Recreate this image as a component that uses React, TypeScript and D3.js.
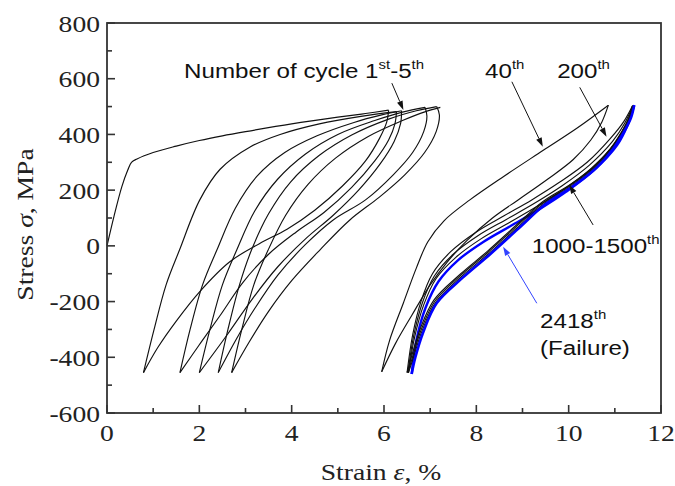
import React from 'react';
import * as d3 from 'd3';

type Pt = [number, number];

// axis ticks
const xTicks = [0, 2, 4, 6, 8, 10, 12];
const xMinor = [1, 3, 5, 7, 9, 11];
const yTicks = [-600, -400, -200, 0, 200, 400, 600, 800];
const yMinor = [-500, -300, -100, 100, 300, 500, 700];

// ----- cycles 1-5 (strain %, stress MPa)
const initialLoading: Pt[] = [[0, 0], [0.15, 105], [0.32, 212], [0.45, 272], [0.53, 300], [0.65, 312], [1, 335], [1.5, 358], [2, 378], [2.5, 395], [3, 410], [4, 438], [5, 462], [5.6, 475], [6.1, 487]];
const unload1: Pt[] = [[6.1, 487], [6.06, 445], [5.9, 385], [5.6, 305], [5.1, 215], [4.5, 128], [3.9, 60], [3.3, 8], [2.66, -57], [2.01, -164], [1.5, -270], [1.1, -365], [0.79, -455]];
const reload1: Pt[] = [[0.79, -455], [1.02, -300], [1.28, -140], [1.57, -15], [2.01, 165], [2.45, 275], [3.1, 355], [3.75, 400], [4.6, 438], [5.5, 465], [6.27, 482]];
const unload2: Pt[] = [[6.27, 482], [6.24, 440], [6.1, 380], [5.8, 305], [5.3, 210], [4.7, 120], [4.1, 50], [3.5, -30], [2.95, -130], [2.45, -250], [2.0, -355], [1.58, -455]];
const reload2: Pt[] = [[1.58, -455], [1.8, -300], [2.07, -140], [2.38, -15], [2.78, 135], [3.25, 250], [3.85, 335], [4.55, 395], [5.35, 443], [5.95, 470], [6.38, 485]];
const unload3: Pt[] = [[6.38, 485], [6.36, 440], [6.22, 375], [5.92, 295], [5.45, 200], [4.9, 110], [4.3, 25], [3.7, -75], [3.15, -190], [2.6, -320], [2.0, -455]];
const reload3: Pt[] = [[2.0, -455], [2.23, -300], [2.5, -140], [2.81, -15], [3.2, 125], [3.7, 240], [4.3, 330], [5.0, 400], [5.8, 450], [6.4, 480], [6.89, 497]];
const unload4: Pt[] = [[6.89, 497], [6.93, 465], [6.86, 410], [6.62, 335], [6.2, 255], [5.6, 165], [4.9, 93], [4.3, 5], [3.7, -105], [3.2, -225], [2.8, -335], [2.41, -455]];
const reload4: Pt[] = [[2.41, -455], [2.62, -300], [2.87, -140], [3.13, -15], [3.5, 115], [3.98, 230], [4.6, 325], [5.3, 398], [6.1, 455], [6.7, 485], [7.14, 500]];
const unload5: Pt[] = [[7.14, 500], [7.2, 470], [7.13, 410], [6.88, 335], [6.45, 255], [5.9, 175], [5.26, 93], [4.61, -15], [4.0, -125], [3.5, -235], [3.08, -345], [2.7, -455]];
const reload5: Pt[] = [[2.7, -455], [2.92, -300], [3.18, -140], [3.49, -15], [3.87, 110], [4.35, 220], [4.95, 315], [5.65, 392], [6.4, 450], [6.9, 482], [7.22, 497]];

// ----- cycle 40
const c40Up: Pt[] = [[5.95, -452], [6.12, -340], [6.42, -205], [6.7, -80], [6.95, 15], [7.3, 90], [7.86, 165], [8.6, 250], [9.45, 343], [10.2, 425], [10.86, 505]];
const c40Down: Pt[] = [[10.86, 505], [10.72, 445], [10.48, 380], [10.1, 310], [9.55, 240], [8.95, 170], [8.35, 100], [7.8, 20], [7.36, -60], [7.0, -140], [6.6, -250], [6.25, -350], [5.95, -452]];

// ----- cycles 200, 1000-1500
const b200Up: Pt[] = [[6.5, -455], [6.62, -320], [6.8, -200], [7.05, -100], [7.45, -20], [8.0, 50], [8.6, 108], [9.2, 165], [9.8, 228], [10.4, 300], [10.9, 385], [11.2, 448], [11.38, 502]];
const b200Down: Pt[] = [[11.38, 502], [11.3, 458], [11.15, 410], [10.9, 348], [10.55, 285], [10.05, 222], [9.45, 160], [8.85, 72], [8.25, -18], [7.65, -102], [7.08, -195], [6.78, -300], [6.6, -395], [6.5, -455]];
const b1000Up: Pt[] = [[6.52, -455], [6.64, -325], [6.83, -205], [7.09, -108], [7.5, -30], [8.05, 38], [8.65, 95], [9.25, 152], [9.85, 215], [10.45, 290], [10.95, 375], [11.22, 442], [11.39, 503]];
const b1000Down: Pt[] = [[11.39, 503], [11.31, 458], [11.16, 410], [10.91, 346], [10.56, 283], [10.06, 219], [9.46, 156], [8.86, 68], [8.26, -22], [7.66, -106], [7.1, -199], [6.8, -304], [6.62, -398], [6.52, -455]];
const b1500Up: Pt[] = [[6.53, -455], [6.66, -330], [6.86, -212], [7.13, -117], [7.55, -42], [8.1, 25], [8.7, 82], [9.3, 140], [9.9, 203], [10.5, 280], [11.0, 368], [11.25, 438], [11.4, 504]];
const b1500Down: Pt[] = [[11.4, 504], [11.33, 459], [11.18, 410], [10.93, 346], [10.58, 282], [10.08, 217], [9.48, 153], [8.88, 64], [8.28, -26], [7.68, -110], [7.12, -203], [6.82, -307], [6.64, -400], [6.53, -455]];

// ----- cycle 2418 (failure)
const f2418Up: Pt[] = [[6.6, -460], [6.7, -340], [6.9, -222], [7.18, -128], [7.6, -52], [8.15, 14], [8.75, 72], [9.35, 130], [9.95, 195], [10.55, 272], [11.05, 362], [11.28, 435], [11.42, 505]];
const f2418Down: Pt[] = [[11.42, 505], [11.35, 460], [11.2, 410], [10.95, 345], [10.6, 280], [10.1, 215], [9.5, 150], [8.9, 60], [8.3, -30], [7.7, -115], [7.14, -206], [6.85, -310], [6.68, -400], [6.6, -460]];

const blackCurves: Pt[][] = [
  initialLoading, unload1, reload1, unload2, reload2, unload3, reload3, unload4, reload4, unload5, reload5,
  c40Up, c40Down, b200Up, b200Down, b1000Up, b1000Down, b1500Up, b1500Down,
];

// annotation arrows: [from, tip] in data units
const arrowCycle: [Pt, Pt] = [[6.17, 584], [6.42, 488]];
const arrow40: [Pt, Pt] = [[8.77, 589], [9.44, 356]];
const arrow200: [Pt, Pt] = [[10.24, 569], [10.82, 392]];
const arrow1000: [Pt, Pt] = [[10.53, 75], [10.01, 219]];
const arrow2418: [Pt, Pt] = [[9.31, -206], [8.58, -3]];

const SERIF = '"Liberation Serif", "Times New Roman", serif';
const SANS = '"Liberation Sans", Arial, sans-serif';
const SX = 1.15;

export default function App() {
  const W = 675, H = 486;
  const x = d3.scaleLinear().domain([0, 12]).range([107, 661]);
  const y = d3.scaleLinear().domain([-600, 800]).range([413, 23]);
  const line = d3.line<Pt>().x(d => x(d[0])).y(d => y(d[1])).curve(d3.curveCatmullRom.alpha(0.5));

  const x0 = x(0), x1 = x(12), yb = y(-600), yt = y(800);
  const frameColor = '#333';

  const arrow = (a: [Pt, Pt], color: string, key: string) => {
    const [fx, fy] = [x(a[0][0]), y(a[0][1])];
    const [tx, ty] = [x(a[1][0]), y(a[1][1])];
    const ang = Math.atan2(ty - fy, tx - fx);
    const L = 9, w = 3;
    const bx = tx - L * Math.cos(ang), by = ty - L * Math.sin(ang);
    const p1 = [bx + w * Math.sin(ang), by - w * Math.cos(ang)];
    const p2 = [bx - w * Math.sin(ang), by + w * Math.cos(ang)];
    return (
      <g key={key}>
        <line x1={fx} y1={fy} x2={bx} y2={by} stroke={color} strokeWidth={1} />
        <polygon points={`${tx},${ty} ${p1[0]},${p1[1]} ${p2[0]},${p2[1]}`} fill={color} />
      </g>
    );
  };

  const sup = (t: string) => (
    <tspan fontSize={13} dy={-9}>{t}</tspan>
  );

  return (
    <svg width={W} height={H} style={{ position: 'absolute', left: 0, top: 0, background: '#fff' }}>
      <rect x={0} y={0} width={W} height={H} fill="#fff" />
      {/* curves */}
      <path d={line(f2418Up) || ''} fill="none" stroke="#0000ff" strokeWidth={2.4} />
      {blackCurves.map((c, i) => (
        <path key={i} d={line(c) || ''} fill="none" stroke="#111" strokeWidth={1.15} />
      ))}
      <path d={line(f2418Down) || ''} fill="none" stroke="#0000ff" strokeWidth={2.6} />

      {/* frame */}
      <rect x={x0} y={yt} width={x1 - x0} height={yb - yt} fill="none" stroke={frameColor} strokeWidth={1.8} />
      {xTicks.map(t => (
        <line key={'xt' + t} x1={x(t)} x2={x(t)} y1={yb} y2={yb - 8} stroke={frameColor} strokeWidth={1.6} />
      ))}
      {xMinor.map(t => (
        <line key={'xm' + t} x1={x(t)} x2={x(t)} y1={yb} y2={yb - 5} stroke={frameColor} strokeWidth={1.6} />
      ))}
      {yTicks.map(t => (
        <line key={'yt' + t} x1={x0} x2={x0 + 8} y1={y(t)} y2={y(t)} stroke={frameColor} strokeWidth={1.6} />
      ))}
      {yMinor.map(t => (
        <line key={'ym' + t} x1={x0} x2={x0 + 5} y1={y(t)} y2={y(t)} stroke={frameColor} strokeWidth={1.6} />
      ))}

      {/* tick labels */}
      {xTicks.map(t => (
        <g key={'xl' + t} transform={`translate(${x(t)},441) scale(${SX},1)`}>
          <text textAnchor="middle" fontFamily={SERIF} fontSize={24} fill="#222">{t}</text>
        </g>
      ))}
      {yTicks.map(t => (
        <g key={'yl' + t} transform={`translate(100,${y(t) + 8.5}) scale(${SX},1)`}>
          <text textAnchor="end" fontFamily={SERIF} fontSize={24} fill="#222">{t}</text>
        </g>
      ))}

      {/* axis titles */}
      <g transform={`translate(33,224.5) rotate(-90) scale(${SX},1)`}>
        <text textAnchor="middle" fontFamily={SERIF} fontSize={24} fill="#222">
          Stress <tspan fontStyle="italic">σ</tspan>, MPa
        </text>
      </g>
      <g transform={`translate(${(x0 + x1) / 2 - 3},480) scale(${SX},1)`}>
        <text textAnchor="middle" fontFamily={SERIF} fontSize={24} fill="#222">
          Strain <tspan fontStyle="italic">ε</tspan>, %
        </text>
      </g>

      {/* annotations */}
      <g transform={`translate(${x(1.67)},${y(603)}) scale(${SX},1)`}>
        <text fontFamily={SANS} fontSize={21} fill="#111">
          Number of cycle 1{sup('st')}<tspan fontSize={21} dy={9}>-5</tspan>{sup('th')}
        </text>
      </g>
      <g transform={`translate(${x(8.19)},${y(603)}) scale(${SX},1)`}>
        <text fontFamily={SANS} fontSize={21} fill="#111">40{sup('th')}</text>
      </g>
      <g transform={`translate(${x(9.75)},${y(603)}) scale(${SX},1)`}>
        <text fontFamily={SANS} fontSize={21} fill="#111">200{sup('th')}</text>
      </g>
      <g transform={`translate(${x(9.2)},${y(-26)}) scale(${SX},1)`}>
        <text fontFamily={SANS} fontSize={21} fill="#111">1000-1500{sup('th')}</text>
      </g>
      <g transform={`translate(${x(9.38)},${y(-295)}) scale(${SX},1)`}>
        <text fontFamily={SANS} fontSize={21} fill="#111">2418{sup('th')}</text>
      </g>
      <g transform={`translate(${x(9.38)},${y(-392)}) scale(${SX},1)`}>
        <text fontFamily={SANS} fontSize={21} fill="#111">(Failure)</text>
      </g>

      {arrow(arrowCycle, '#111', 'a1')}
      {arrow(arrow40, '#111', 'a2')}
      {arrow(arrow200, '#111', 'a3')}
      {arrow(arrow1000, '#111', 'a4')}
      {arrow(arrow2418, '#3344ff', 'a5')}
    </svg>
  );
}
